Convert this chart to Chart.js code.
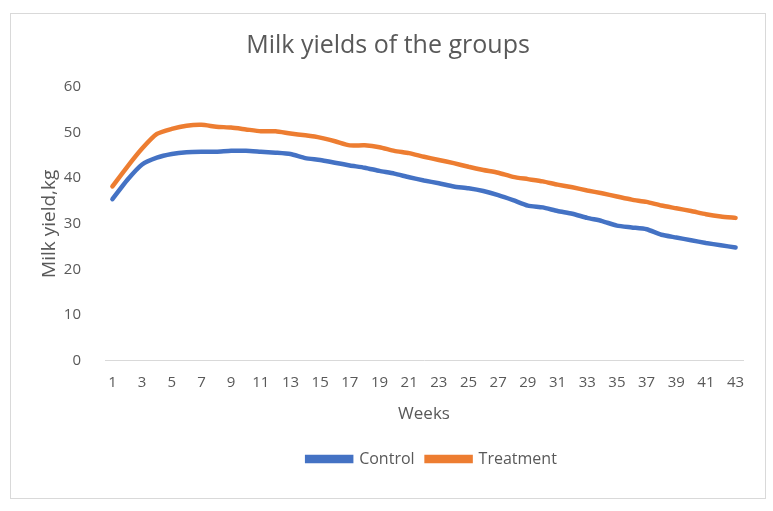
<!DOCTYPE html>
<html>
<head>
<meta charset="utf-8">
<script src="https://cdn.jsdelivr.net/npm/chart.js@4"></script>
<style>
    body { margin: 0; background: #fff; }
    #frame {
        position: absolute; left: 10px; top: 13px;
        width: 754px; height: 484px;
        border: 1px solid #d9d9d9;
    }
</style>
</head>
<body>
<div id="frame"><canvas id="chart"></canvas></div>
<script>
const weeks = ['1','2','3','4','5','6','7','8','9','10','11','12','13','14','15','16','17','18','19','20','21','22',
    '23','24','25','26','27','28','29','30','31','32','33','34','35','36','37','38','39','40','41','42','43'];

const control = [35.4, 39.6, 43.0, 44.5, 45.3, 45.7, 45.8, 45.8, 46.0, 46.0, 45.8, 45.6, 45.3, 44.4, 44.0,
    43.4, 42.8, 42.3, 41.6, 41.0, 40.2, 39.5, 38.9, 38.2, 37.8, 37.2, 36.3, 35.2, 34.0, 33.6, 32.8, 32.2,
    31.3, 30.6, 29.6, 29.2, 28.8, 27.6, 27.0, 26.4, 25.8, 25.3, 24.8];

const treatment = [38.2, 42.5, 46.5, 49.7, 50.8, 51.5, 51.7, 51.3, 51.1, 50.7, 50.3, 50.3, 49.8, 49.4, 48.9,
    48.1, 47.2, 47.2, 46.8, 46.0, 45.5, 44.7, 44.0, 43.3, 42.5, 41.8, 41.2, 40.3, 39.8, 39.3, 38.6, 38.0,
    37.3, 36.7, 36.0, 35.3, 34.8, 34.0, 33.4, 32.8, 32.1, 31.6, 31.3];

const yTicks = [0, 10, 20, 30, 40, 50, 60];

const fontFamily = "'Open Sans', sans-serif";
const grey = '#595959';

// Excel centres the legend under the plot, not under the whole chart
const legendShift = {
    id: 'legendShift',
    afterLayout(chart) {
        const lg = chart.legend;
        const area = chart.chartArea;
        const frameMid = (chart.width) / 2;
        const plotMid = (area.left + area.right) / 2;
        const dx = plotMid - frameMid + 8;
        lg.left += dx;
        lg.right += dx;
        if (lg.lineWidths) {
            lg.legendHitBoxes.forEach(b => { b.left += dx; });
        }
    }
};

new Chart(document.getElementById('chart'), {
    type: 'line',
    data: {
        labels: weeks,
        datasets: [
            {
                label: 'Control',
                data: control,
                borderColor: '#4472C4',
                backgroundColor: '#4472C4',
                borderWidth: 4.5,
                pointRadius: 0,
                tension: 0.2,
                borderCapStyle: 'round'
            },
            {
                label: 'Treatment',
                data: treatment,
                borderColor: '#ED7D31',
                backgroundColor: '#ED7D31',
                borderWidth: 4.5,
                pointRadius: 0,
                tension: 0.2,
                borderCapStyle: 'round'
            }
        ]
    },
    options: {
        responsive: true,
        maintainAspectRatio: false,
        animation: false,
        layout: { padding: { left: 22, right: 22, top: 8, bottom: 21 } },
        plugins: {
            title: {
                display: true,
                text: 'Milk yields of the groups',
                color: grey,
                font: { family: fontFamily, size: 25, weight: 'normal' },
                padding: { top: 9, bottom: 26 }
            },
            legend: {
                position: 'bottom',
                labels: {
                    color: grey,
                    font: { family: fontFamily, size: 16 },
                    boxWidth: 44,
                    boxHeight: 4,
                    padding: 12
                }
            },
            tooltip: { enabled: false }
        },
        scales: {
            x: {
                offset: true,
                grid: { display: false },
                border: { color: '#d9d9d9', width: 1 },
                ticks: {
                    color: grey,
                    font: { family: fontFamily, size: 15 },
                    autoSkip: false,
                    maxRotation: 0,
                    padding: 5,
                    callback: function(value, index) {
                        return index % 2 === 0 ? weeks[index] : '';
                    }
                },
                title: {
                    display: true,
                    text: 'Weeks',
                    color: grey,
                    font: { family: fontFamily, size: 17 },
                    padding: { top: 7, bottom: 15 }
                }
            },
            y: {
                min: 0,
                max: 60,
                grid: { display: false },
                border: { display: false },
                afterBuildTicks: function(axis) {
                    axis.ticks = yTicks.map(v => ({ value: v }));
                },
                ticks: {
                    color: grey,
                    font: { family: fontFamily, size: 15 },
                    padding: 16
                },
                title: {
                    display: true,
                    text: 'Milk yield,kg',
                    color: grey,
                    font: { family: fontFamily, size: 19 },
                    padding: { top: 5, bottom: 0 }
                },
                afterFit: function(axis) {
                    axis.width = 72;
                }
            }
        }
    },
    plugins: [legendShift]
});
</script>
</body>
</html>
